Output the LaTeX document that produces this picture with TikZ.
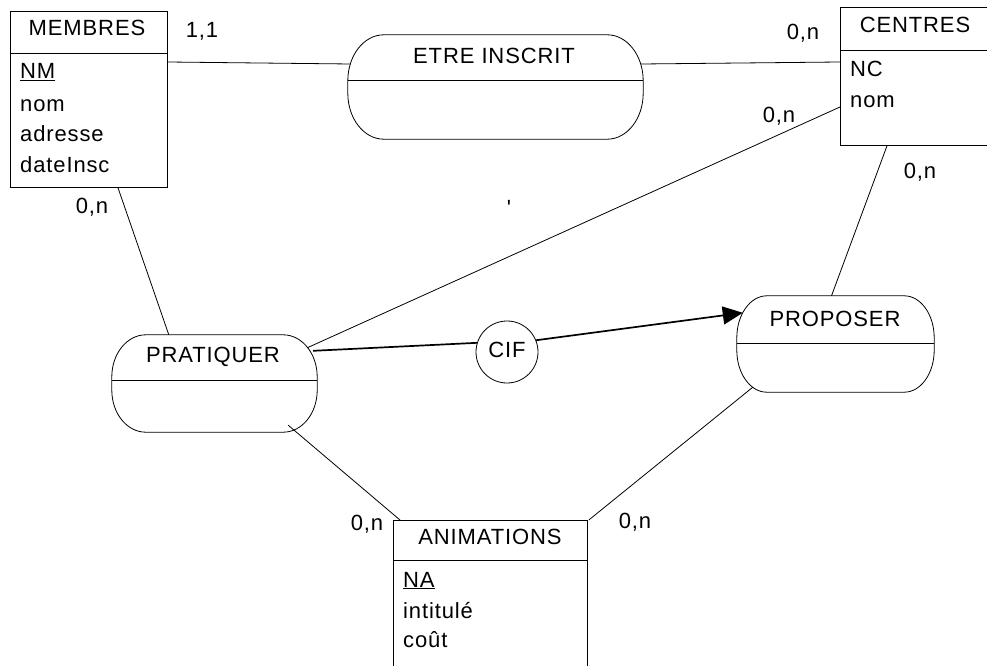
\documentclass[tikz,border=0pt]{standalone}
\usepackage{fontspec}
\setmainfont{Liberation Sans}[LetterSpace=4.0]
\usetikzlibrary{calc,arrows.meta}
\tikzset{
  ent/.style={draw, line width=0.8pt, anchor=north west, inner sep=0pt},
  rel/.style={inner sep=0pt},
  cifnode/.style={draw, circle, line width=0.8pt, minimum size=62pt, inner sep=0pt},
  txt/.style={inner sep=0pt, anchor=base west},
  ttl/.style={inner sep=0pt, anchor=center},
  card/.style={inner sep=0pt, anchor=base},
  link/.style={line width=0.8pt},
  ciflink/.style={line width=1.7pt},
}
% outline of a relation node with elliptical corners: #1 name, #2 rx, #3 ry
\newcommand{\relpath}[3]{%
  \draw[link] ($(#1.north west)+(#2,0)$) -- ($(#1.north east)+(-#2,0)$)
    arc[start angle=-90,end angle=0,x radius=#2,y radius=#3]
    -- ($(#1.south east)+(0,-#3)$)
    arc[start angle=0,end angle=90,x radius=#2,y radius=#3]
    -- ($(#1.south west)+(#2,0)$)
    arc[start angle=90,end angle=180,x radius=#2,y radius=#3]
    -- ($(#1.north west)+(0,#3)$)
    arc[start angle=180,end angle=270,x radius=#2,y radius=#3] -- cycle;}
\begin{document}
\begin{tikzpicture}[x=1pt,y=-1pt,font=\fontsize{22}{26}\selectfont]
\useasboundingbox (0,0) rectangle (987,666);
\clip (0,0) rectangle (987,666);

% MEMBRES
\node[ent, minimum width=157pt, minimum height=176pt] (membres) at (10,11) {};
\draw[link] ($(membres.north west)+(0,42)$) -- ($(membres.north east)+(0,42)$);
\node[ttl] (membresT) at (87,28) {MEMBRES};
\node[txt] (m1) at (20,79) {\underline{NM}};
\node[txt] (m2) at (20,112) {nom};
\node[txt] (m3) at (20,142) {adresse};
\node[txt] (m4) at (20,172) {dateInsc};

% CENTRES
\node[ent, minimum width=150pt, minimum height=138pt] (centres) at (840,7) {};
\draw[link] ($(centres.north west)+(0,43)$) -- ($(centres.north east)+(0,43)$);
\node[ttl] (centresT) at (915,25) {CENTRES};
\node[txt] (c1) at (850,77) {NC};
\node[txt] (c2) at (850,107) {nom};

% ANIMATIONS
\node[ent, minimum width=194pt, minimum height=170pt] (anim) at (393,520) {};
\draw[link] ($(anim.north west)+(0,40)$) -- ($(anim.north east)+(0,40)$);
\node[ttl] (animT) at (490,537) {ANIMATIONS};
\node[txt] (a1) at (403,587) {\underline{NA}};
\node[txt] (a2) at (403,618) {intitulé};
\node[txt] (a3) at (403,647) {coût};

% Relations
\node[rel, minimum width=295pt, minimum height=104pt] (etre) at (495.5,87) {};
\relpath{etre}{36}{46}
\draw[link] ($(etre.west)+(0,-7)$) -- ($(etre.east)+(0,-7)$);
\node[ttl] (etreT) at (494,56) {ETRE INSCRIT};

\node[rel, minimum width=205pt, minimum height=97pt] (prat) at (214.5,383.5) {};
\relpath{prat}{34}{42}
\draw[link] ($(prat.west)+(0,-3.5)$) -- ($(prat.east)+(0,-3.5)$);
\node[ttl] (pratT) at (213,357) {PRATIQUER};

\node[rel, minimum width=197pt, minimum height=96pt] (prop) at (835.5,344) {};
\relpath{prop}{30}{42}
\draw[link] ($(prop.west)+(0,-1)$) -- ($(prop.east)+(0,-1)$);
\node[ttl] (propT) at (835,319) {PROPOSER};

\node[cifnode] (cif) at (507,352) {};
\node[ttl] (cifT) at (507,350) {CIF};

% Connectors
\draw[link] ($(membres.north east)+(0,51)$) -- ($(etre.west)+(3,-23)$);
\draw[link] ($(etre.east)+(-2,-23)$) -- ($(centres.north west)+(0,55)$);
\draw[link] ($(centres.north west)+(0,100)$) -- ($(prat.north east)+(-10,13)$);
\draw[link] ($(centres.south west)+(47,0)$) -- ($(prop.north)+(-4,0)$);
\draw[link] ($(membres.south west)+(108,0)$) -- ($(prat.north west)+(57,0)$);
\draw[link] ($(prat.south east)+(-29,-7)$) -- ($(anim.north west)+(7,0)$);
\draw[link] ($(prop.south west)+(16,-5)$) -- ($(anim.north east)+(1,0)$);
\draw[ciflink] ($(prat.north east)+(-4,16)$) -- (cif.163);
\draw[ciflink,-{Triangle[length=20pt,width=18pt]}] (cif.22) -- ($(prop.north west)+(6,17)$);

% Cardinalities
\node[card] (k1) at (202,38) {1,1};
\node[card] (k2) at (803,40) {0,n};
\node[card] (k3) at (779,123) {0,n};
\node[card] (k4) at (920,178) {0,n};
\node[card] (k5) at (92,213) {0,n};
\node[card] (k6) at (367,530) {0,n};
\node[card] (k7) at (635,528) {0,n};
\node[card] (tick) at (509,215) {\textquotesingle};
\end{tikzpicture}
\end{document}
